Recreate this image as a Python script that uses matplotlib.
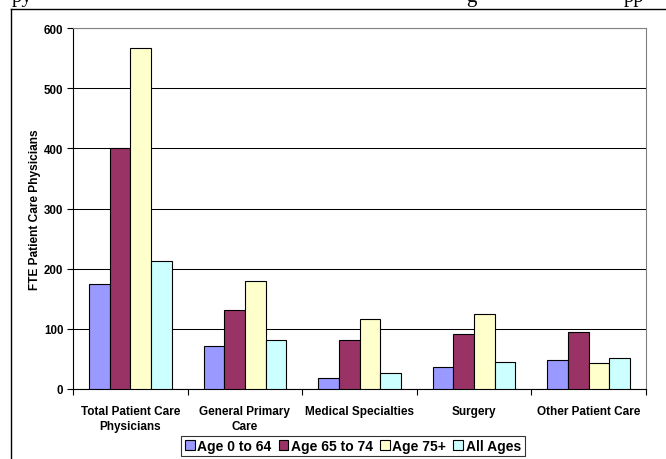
import matplotlib
matplotlib.use("Agg")
import matplotlib.pyplot as plt
from matplotlib.lines import Line2D
from matplotlib.patches import Patch
import numpy as np

# Physician counts by specialty group and age band
categories = ["Total Patient Care\nPhysicians", "General Primary\nCare",
              "Medical Specialties", "Surgery", "Other Patient Care"]
series_names = ["Age 0 to 64", "Age 65 to 74", "Age 75+", "All Ages"]
age_0_64 = [175, 71, 18, 37, 49]
age_65_74 = [400, 131, 81, 92, 95]
age_75_plus = [566, 180, 116, 125, 43]
all_ages = [213, 82, 27, 45, 52]
y_ticks = [0, 100, 200, 300, 400, 500, 600]

series = [age_0_64, age_65_74, age_75_plus, all_ages]
colors = ["#9999FF", "#993366", "#FFFFCC", "#CCFFFF"]

W, H = 666, 460
fig = plt.figure(figsize=(W / 100, H / 100), dpi=100)
fig.patch.set_facecolor("white")

FONT = "Liberation Sans"
fs = 8.3

# plot area in pixel terms
left, right, top, bottom = 73, 646, 29, 390
ax = fig.add_axes([left / W, 1 - bottom / H, (right - left) / W, (bottom - top) / H])

n = len(series)
bw = 0.18
x = np.arange(len(categories)) + 0.5
for i, (vals, c) in enumerate(zip(series, colors)):
    ax.bar(x + (i - (n - 1) / 2) * bw, vals, width=bw, color=c,
           edgecolor="black", linewidth=0.8, zorder=3, label=series_names[i])

ax.set_xlim(0, len(categories))
ax.set_ylim(0, 600)
ax.set_yticks(y_ticks)
ax.set_yticklabels([str(t) for t in y_ticks], fontsize=fs, fontweight="bold", family=FONT)
ax.yaxis.grid(True, color="#000000", linewidth=0.75, zorder=0)
ax.set_axisbelow(True)

# category ticks sit between groups, labels at group centres
ax.set_xticks(np.arange(len(categories) + 1))
ax.set_xticklabels([])
ax.set_xticks(x, minor=True)
ax.set_xticklabels(categories, minor=True, fontsize=8.5, fontweight="bold",
                   family=FONT, linespacing=1.3)
ax.tick_params(axis="x", which="minor", length=0, pad=11.5)
ax.tick_params(axis="x", which="major", length=4, width=0.8, direction="out")
ax.tick_params(axis="y", length=4, width=0.8, direction="out", pad=3)

for s in ["left", "bottom"]:
    ax.spines[s].set_color("black")
    ax.spines[s].set_linewidth(0.8)
for s in ["top", "right"]:
    ax.spines[s].set_color("#808080")
    ax.spines[s].set_linewidth(0.8)

ax.set_ylabel("FTE Patient Care Physicians", fontsize=8.6, fontweight="bold",
              family=FONT, labelpad=2)

handles = [Patch(facecolor=c, edgecolor="black", linewidth=0.8) for c in colors]
leg = fig.legend(handles, series_names, loc="center",
                 bbox_to_anchor=(353 / W, 1 - 447 / H), ncol=4,
                 prop={"family": FONT, "weight": "bold", "size": 10},
                 frameon=True, fancybox=False, handlelength=0.7, handleheight=0.7,
                 handletextpad=0.2, columnspacing=0.5, borderpad=0.25,
                 borderaxespad=0)
leg.get_frame().set_edgecolor("black")
leg.get_frame().set_linewidth(0.8)

# chart-area border
fig.add_artist(Line2D([11 / W, 11 / W], [0, 1 - 10 / H], color="black",
                      linewidth=1.0, transform=fig.transFigure))
fig.add_artist(Line2D([11 / W, 1], [1 - 10 / H, 1 - 10 / H], color="black",
                      linewidth=1.0, transform=fig.transFigure))

# running text of the surrounding page, cut off at the top edge
for px, s in [(12, "py"), (466, "g"), (624, "pp")]:
    fig.text(px / W, 1 - 2 / H, s, family="Liberation Serif", fontsize=15,
             va="baseline", ha="left")

fig.savefig("out.png", dpi=100)
